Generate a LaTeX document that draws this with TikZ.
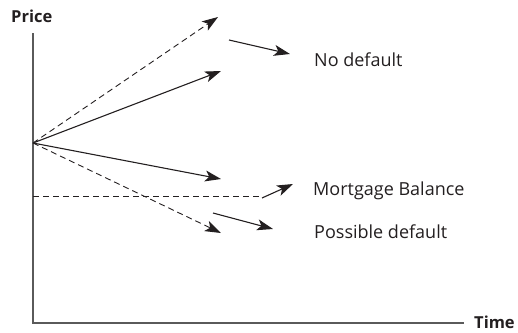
\documentclass[tikz,border=0pt]{standalone}
\usepackage{fontspec}
\setmainfont{Open Sans}
\usepackage{xcolor}
\usetikzlibrary{arrows.meta}
\definecolor{ink}{HTML}{231F20}
\definecolor{axisgray}{HTML}{5A5A5A}

\begin{document}
\begin{tikzpicture}[x=1pt,y=-1pt,
  label/.style={anchor=base west,inner sep=0pt,text=ink,font=\fontsize{18}{20}\selectfont},
  axlabel/.style={anchor=base west,inner sep=0pt,text=ink,font=\fontsize{16.5}{18}\selectfont\bfseries},
  axis/.style={draw=axisgray,line width=1.4pt},
  path/.style={draw=ink,line width=1.1pt,-{Stealth[length=16pt,width=11pt,inset=4pt]}},
  guess/.style={path,line width=0.9pt,dash pattern=on 6pt off 4pt}]
  \useasboundingbox (0,0) rectangle (518,332);
  % texts
  \node[axlabel] at(11,22)(price){Price};
  \node[axlabel] at(474,328.5)(time){Time};
  \node[label] at(314,66)(nodef){No default};
  \node[label] at(313,195)(mbal){Mortgage Balance};
  \node[label] at(314,238)(posdef){Possible default};
  % axes
  \coordinate (top) at(33,33);
  \coordinate (corner) at(33,323);
  \coordinate (right) at(464,323);
  \draw[axis] (top) -- (corner) -- (right);
  % price paths
  \coordinate (o) at(33,143);
  \coordinate (p1) at(218,17);
  \coordinate (p2) at(221,71);
  \coordinate (p3) at(221,179);
  \coordinate (p4) at(221,233);
  \draw[guess] (o) -- (p1);
  \draw[path] (o) -- (p2);
  \draw[path] (o) -- (p3);
  \draw[guess] (o) -- (p4);
  % mortgage balance
  \coordinate (m0) at(33,196);
  \coordinate (m1) at(263,196);
  \draw[draw=ink,line width=0.9pt,dash pattern=on 6pt off 4pt] (m0) -- (m1);
  % pointers
  \coordinate (a1) at(229,40);
  \coordinate (b1) at(290,54);
  \coordinate (a2) at(262,198);
  \coordinate (b2) at(293,184);
  \coordinate (a3) at(213,213);
  \coordinate (b3) at(273,229);
  \draw[path] (a1) -- (b1);
  \draw[path] (a2) -- (b2);
  \draw[path] (a3) -- (b3);
\end{tikzpicture}
\end{document}
